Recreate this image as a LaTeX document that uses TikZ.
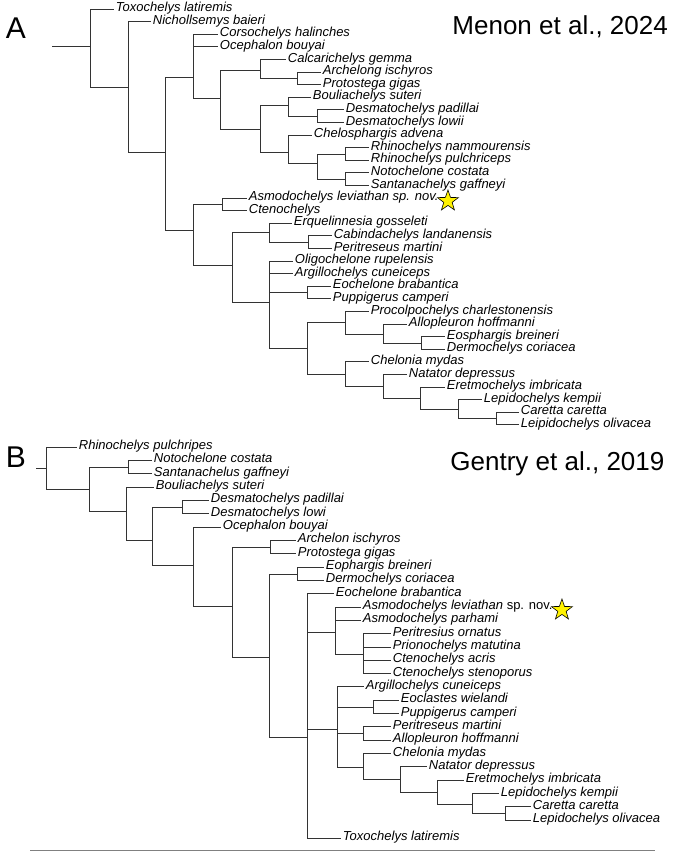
\documentclass[tikz,border=0pt]{standalone}
\usepackage{fontspec}
\setmainfont{Liberation Sans}
\usetikzlibrary{shapes.geometric}
\definecolor{treeline}{HTML}{333333}
\definecolor{staryellow}{HTML}{FFF200}
\begin{document}
\begin{tikzpicture}[x=1pt, y=-1pt, line width=0.9pt, draw=treeline,
		leaf/.style={anchor=west, inner xsep=1.5pt, inner ysep=0pt, text height=1ex, text depth=0pt, font=\fontsize{13}{13}\selectfont\itshape},
		title/.style={anchor=west, inner sep=0pt, font=\fontsize{26}{28}\selectfont},
		panel/.style={inner sep=0pt, font=\fontsize{30}{32}\selectfont},
		newsp/.style={star, star points=5, star point ratio=2.5, draw=black, line width=0.6pt, fill=staryellow, minimum size=22pt, inner sep=0pt, anchor=west}]
			\useasboundingbox (0,0) rectangle (685,853);
			
			%panel A
			\node[panel] (labA) at (16,28) {A};
			\node[title] (titA) at (452,27) {Menon et al., 2024};
			
			\foreach \n/\x/\y/\t in {aTox/114/9/Toxochelys latiremis, aNic/151/21.6/Nichollsemys baieri,
				aCor/218/34.2/Corsochelys halinches, aOce/218/46.8/Ocephalon bouyai,
				aCal/286/59.4/Calcarichelys gemma, aArc/321/72/Archelong ischyros, aPro/321/84.6/Protostega gigas,
				aBou/311/97.2/Bouliachelys suteri, aDpa/344/109.8/Desmatochelys padillai, aDlo/344/122.4/Desmatochelys lowii,
				aChs/312/135/Chelosphargis advena, aRna/369/147.6/Rhinochelys nammourensis, aRpu/369/160.2/Rhinochelys pulchriceps,
				aNot/369/172.8/Notochelone costata, aSan/369/185.4/Santanachelys gaffneyi,
				aAsm/247/198/Asmodochelys leviathan sp. nov., aCte/247/210.6/Ctenochelys,
				aErq/292/223.2/Erquelinnesia gosseleti, aCab/332/235.8/Cabindachelys landanensis, aPer/332/248.4/Peritreseus martini,
				aOli/293/261/Oligochelone rupelensis, aArg/293/273.6/Argillochelys cuneiceps,
				aEoc/331/286.2/Eochelone brabantica, aPup/331/298.8/Puppigerus camperi,
				aPrc/369/311.4/Procolpochelys charlestonensis, aAll/407/324/Allopleuron hoffmanni,
				aEos/445/336.6/Eosphargis breineri, aDer/445/349.2/Dermochelys coriacea,
				aChe/369/361.8/Chelonia mydas, aNat/407/374.4/Natator depressus, aEre/445/387/Eretmochelys imbricata,
				aLke/482/399.6/Lepidochelys kempii, aCar/519/412.2/Caretta caretta, aLol/519/424.8/Leipidochelys olivacea}
				\node[leaf] (\n) at (\x,\y) {\t};
			
			\foreach \n/\x/\y in {a0/52/46, a1/90/46, a2/128/87, a3/165/152, aC/193/77, aD/220/98,
				aE/260/70, aF/297/78, aG/260/129, aH/288/105, aI/317/116, aJ/288/152, aK/317/163,
				aL/345/154, aM/345/179, a4/193/230, aN/222/204, a5/232/265, aO/269/232, aP/308/242,
				aQ/269/302, aRr/307/292, aS/307/348, aT/345/322, aV/383/334, aW/421/343,
				aU/345/374, aX/383/386, aY/420/398, aZ/458/409, aCc/496/418.5}
				\coordinate (\n) at (\x,\y);
			
			\draw (a0) -- (a1);
			\foreach \p/\c in {a1/aTox, a1/a2, a2/aNic, a2/a3, a3/aC, a3/a4,
				aC/aCor, aC/aOce, aC/aD, aD/aE, aD/aG, aE/aCal, aE/aF, aF/aArc, aF/aPro,
				aG/aH, aG/aJ, aH/aBou, aH/aI, aI/aDpa, aI/aDlo, aJ/aChs, aJ/aK,
				aK/aL, aK/aM, aL/aRna, aL/aRpu, aM/aNot, aM/aSan,
				a4/aN, a4/a5, aN/aAsm, aN/aCte, a5/aO, a5/aQ, aO/aErq, aO/aP, aP/aCab, aP/aPer,
				aQ/aOli, aQ/aArg, aQ/aRr, aQ/aS, aRr/aEoc, aRr/aPup,
				aS/aT, aS/aU, aT/aPrc, aT/aV, aV/aAll, aV/aW, aW/aEos, aW/aDer,
				aU/aChe, aU/aX, aX/aNat, aX/aY, aY/aEre, aY/aZ, aZ/aLke, aZ/aCc, aCc/aCar, aCc/aLol}
				\draw (\p) |- (\c);
			
			\node[newsp] (starA) at ([xshift=1pt, yshift=-3pt]aAsm.east) {};
			
			%panel B
			\node[panel] (labB) at (16,457) {B};
			\node[title] (titB) at (450,464) {Gentry et al., 2019};
			
			\foreach \n/\x/\y/\t in {bRhi/77/447/Rhinochelys pulchripes,
				bNot/152/460.3/Notochelone costata, bSan/152/473.7/Santanachelus gaffneyi,
				bBou/154/487/Bouliachelys suteri, bDpa/209/500.3/Desmatochelys padillai, bDlo/209/513.7/Desmatochelys lowi,
				bOce/221/527/Ocephalon bouyai, bArc/296/540.3/Archelon ischyros, bPro/296/553.6/Protostega gigas,
				bEop/324/567/Eophargis breineri, bDer/324/580.3/Dermochelys coriacea,
				bEoc/334/593.6/Eochelone brabantica, bApa/361/620.3/Asmodochelys parhami,
				bPto/391/633.6/Peritresius ornatus, bPri/391/647/Prionochelys matutina,
				bCac/391/660.3/Ctenochelys acris, bCst/391/673.6/Ctenochelys stenoporus,
				bArg/364/686.9/Argillochelys cuneiceps, bEol/399/700.3/Eoclastes wielandi, bPup/399/713.6/Puppigerus camperi,
				bPer/391/726.9/Peritreseus martini, bAll/391/740.3/Allopleuron hoffmanni,
				bChe/391/753.6/Chelonia mydas, bNat/427/766.9/Natator depressus, bEre/464/780.3/Eretmochelys imbricata,
				bLke/499/793.6/Lepidochelys kempii, bCar/531/806.9/Caretta caretta, bLol/531/820.2/Lepidochelys olivacea,
				bTox/341/838/Toxochelys latiremis}
				\node[leaf] (\n) at (\x,\y) {\t};
			\node[leaf] (bAsm) at (361,607) {Asmodochelys leviathan \textup{sp. nov.}};
			
			\foreach \n/\x/\y in {b0/36/468, b1/46/468, b2/89/489, bN/128/467, b3/126/511, b4/152/540,
				bD/182/507, b5/193/565, b6/232/606, bAr/270/547, b7/269/657, bEo/297/574,
				b8/307/737, bAs/335/632, bPe/363/654, bArN/337/729, bEw/373/707, bPm/363/733,
				bCh/363/767, bNa/400/779, bEr/437/792, bLk/472/804, bCc/505/813.5}
				\coordinate (\n) at (\x,\y);
			
			\draw (b0) -- (b1);
			\foreach \p/\c in {b1/bRhi, b1/b2, b2/bN, b2/b3, bN/bNot, bN/bSan, b3/bBou, b3/b4,
				b4/bD, b4/b5, bD/bDpa, bD/bDlo, b5/bOce, b5/b6, b6/bAr, b6/b7, bAr/bArc, bAr/bPro,
				b7/bEo, b7/b8, bEo/bEop, bEo/bDer, b8/bEoc, b8/bAs, b8/bArN, b8/bTox,
				bAs/bAsm, bAs/bApa, bAs/bPe, bPe/bPto, bPe/bPri, bPe/bCac, bPe/bCst,
				bArN/bArg, bArN/bEw, bArN/bPm, bArN/bCh, bEw/bEol, bEw/bPup, bPm/bPer, bPm/bAll,
				bCh/bChe, bCh/bNa, bNa/bNat, bNa/bEr, bEr/bEre, bEr/bLk, bLk/bLke, bLk/bCc, bCc/bCar, bCc/bLol}
				\draw (\p) |- (\c);
			
			\node[newsp] (starB) at ([xshift=1pt, yshift=-3pt]bAsm.east) {};
			
			%bottom rule
			\coordinate (ruleL) at (30,850);
			\coordinate (ruleR) at (655,850);
			\draw[gray, line width=0.8pt] (ruleL) -- (ruleR);
		\end{tikzpicture}
\end{document}
